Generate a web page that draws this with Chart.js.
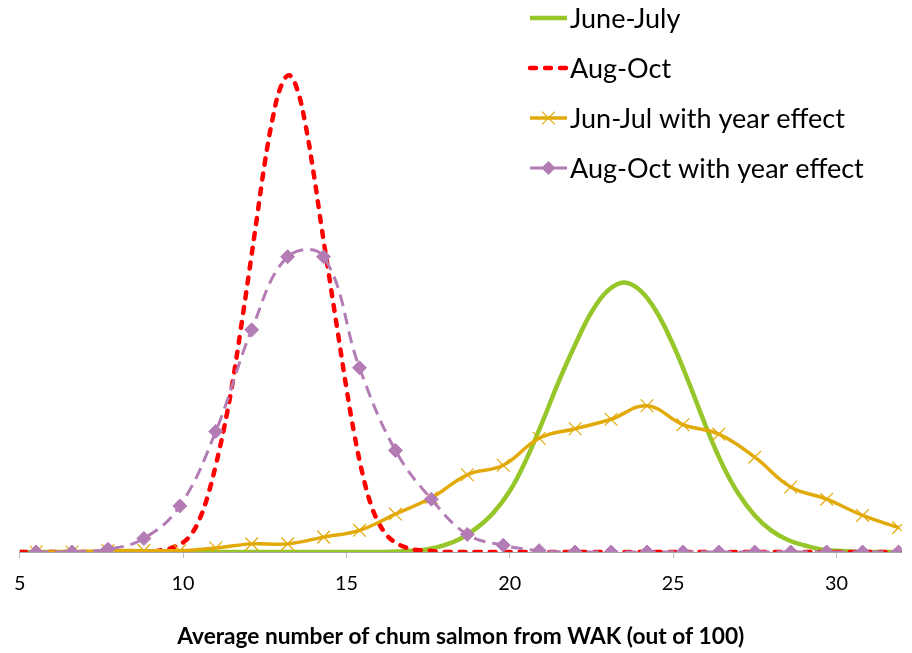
<!DOCTYPE html>
<html>
<head>
<meta charset="utf-8">
<script src="https://cdn.jsdelivr.net/npm/chart.js@4.4.1/dist/chart.umd.min.js"></script>
<style>
html,body{margin:0;padding:0;background:#ffffff;}
#wrap{width:912px;height:653px;}
</style>
</head>
<body>
<div id="wrap"><canvas id="c" width="912" height="653"></canvas></div>
<script>
// ---------------- data ----------------
const seriesNames = ['June-July', 'Aug-Oct', 'Jun-Jul with year effect', 'Aug-Oct with year effect'];
const axisTitle = 'Average number of chum salmon from WAK (out of 100)';
const xTickValues = [5, 10, 15, 20, 25, 30];

// June-July (smooth curve, no markers)
const junJulX = [5, 8, 11, 14, 16, 17, 17.5, 18, 18.5, 19, 19.5, 20, 20.5, 21, 21.5, 22, 22.5, 23, 23.5, 24, 24.5, 25, 25.5, 26, 26.5, 27, 27.5, 28, 28.5, 29, 29.5, 30, 31, 32];
const junJulY = [0, 0, 0, 0, 0, 0.001, 0.002, 0.005, 0.010, 0.018, 0.029, 0.045, 0.068, 0.096, 0.126, 0.153, 0.177, 0.193, 0.199, 0.193, 0.177, 0.153, 0.124, 0.093, 0.065, 0.043, 0.027, 0.016, 0.009, 0.005, 0.002, 0.001, 0, 0];

// Aug-Oct (smooth curve, no markers)
const augOctX = [5, 6, 7, 8, 8.5, 9, 9.25, 9.5, 9.75, 10, 10.25, 10.5, 10.75, 11, 11.25, 11.5, 11.75, 12, 12.25, 12.5, 12.75, 13, 13.25, 13.5, 13.75, 14, 14.25, 14.5, 14.75, 15, 15.25, 15.5, 15.75, 16, 16.25, 16.5, 16.75, 17, 17.5, 18, 19, 20, 22, 24, 26, 28, 30, 32];
const augOctY = [0, 0, 0, 0, 0, 0.000, 0.001, 0.002, 0.004, 0.007, 0.013, 0.024, 0.041, 0.064, 0.091, 0.123, 0.162, 0.203, 0.245, 0.287, 0.321, 0.344, 0.352, 0.341, 0.315, 0.279, 0.238, 0.199, 0.160, 0.121, 0.086, 0.057, 0.035, 0.021, 0.012, 0.007, 0.004, 0.002, 0.001, 0, 0, 0, 0, 0, 0, 0, 0, 0];

// year-effect series (markers)
const yearEffectX = [5.5, 6.6, 7.7, 8.8, 9.9, 11.0, 12.1, 13.2, 14.3, 15.4, 16.5, 17.6, 18.7, 19.8, 20.9, 22.0, 23.1, 24.2, 25.3, 26.4, 27.5, 28.6, 29.7, 30.8, 31.9];
const junJulYearY = [0, 0, 0.001, 0.001, 0.001, 0.003, 0.006, 0.006, 0.011, 0.016, 0.028, 0.040, 0.057, 0.064, 0.084, 0.091, 0.098, 0.108, 0.094, 0.087, 0.070, 0.048, 0.039, 0.027, 0.018];
const augOctYearY = [0, 0, 0.002, 0.010, 0.034, 0.089, 0.164, 0.218, 0.218, 0.136, 0.075, 0.039, 0.013, 0.005, 0.001, 0, 0, 0, 0, 0, 0, 0, 0, 0, 0];

// ---------------- styling helpers ----------------
const FAMILY = 'Lato, "Open Sans", sans-serif';
function fitSize(text, weight, target) {
  const c = document.createElement('canvas').getContext('2d');
  c.font = weight + ' 100px ' + FAMILY;
  return Math.round(1000 * target / c.measureText(text).width) / 10;
}
const tickSize = fitSize('25', 'normal', 23);
const legendSize = fitSize('Aug-Oct with year effect', 'normal', 294);
const titleSize = fitSize(axisTitle, 'bold', 567);

const GREEN = '#97C62A', RED = '#FF0000', GOLD = '#E2AA08', PURPLE = '#B37CB5';

function pts(xs, ys) { return xs.map((x, i) => ({x: x, y: ys[i]})); }

const legendPlugin = {
  id: 'sideLegend',
  afterDraw(chart) {
    const ctx = chart.ctx;
    const rowY = [18, 68, 118, 168];
    const x0 = 530, x1 = 567, tx = 570;
    chart.data.datasets.forEach((ds, i) => {
      const y = rowY[i];
      ctx.save();
      ctx.strokeStyle = ds.borderColor;
      ctx.lineWidth = ds.borderWidth;
      ctx.lineCap = ds.borderCapStyle || 'butt';
      ctx.setLineDash(i === 3 ? [] : (ds.borderDash || []));
      ctx.beginPath(); ctx.moveTo(x0, y); ctx.lineTo(x1, y); ctx.stroke();
      ctx.setLineDash([]);
      const cx = (x0 + x1) / 2;
      if (ds.pointStyle === 'crossRot') {
        const r = ds.pointRadius * Math.SQRT1_2;
        ctx.lineWidth = ds.pointBorderWidth; ctx.strokeStyle = ds.pointBorderColor; ctx.lineCap = 'butt';
        ctx.beginPath();
        ctx.moveTo(cx - r, y - r); ctx.lineTo(cx + r, y + r);
        ctx.moveTo(cx - r, y + r); ctx.lineTo(cx + r, y - r);
        ctx.stroke();
      } else if (ds.pointStyle === 'rectRot') {
        const r = ds.pointRadius;
        ctx.fillStyle = ds.pointBackgroundColor;
        ctx.beginPath();
        ctx.moveTo(cx - r, y); ctx.lineTo(cx, y - r); ctx.lineTo(cx + r, y); ctx.lineTo(cx, y + r);
        ctx.closePath(); ctx.fill();
      }
      ctx.fillStyle = '#000000';
      ctx.font = 'normal ' + legendSize + 'px ' + FAMILY;
      ctx.textBaseline = 'middle';
      ctx.textAlign = 'left';
      ctx.fillText(ds.label, tx, y + 1);
      ctx.restore();
    });
  }
};

new Chart(document.getElementById('c'), {
  type: 'line',
  data: {
    datasets: [
      {
        label: seriesNames[0], data: pts(junJulX, junJulY), order: 4,
        borderColor: GREEN, borderWidth: 4.5, pointRadius: 0,
        tension: 0.4, fill: false
      },
      {
        label: seriesNames[1], data: pts(augOctX, augOctY), order: 3,
        borderColor: RED, borderWidth: 4.5, borderDash: [6, 9], borderCapStyle: 'round',
        pointRadius: 0, tension: 0.4, fill: false
      },
      {
        label: seriesNames[2], data: pts(yearEffectX, junJulYearY), order: 2,
        borderColor: GOLD, borderWidth: 3.5, tension: 0.4,
        pointStyle: 'crossRot', pointRadius: 9, pointBorderWidth: 1.2,
        pointBorderColor: GOLD, pointBackgroundColor: GOLD, fill: false
      },
      {
        label: seriesNames[3], data: pts(yearEffectX, augOctYearY), order: 1,
        borderColor: PURPLE, borderWidth: 3, borderDash: [12, 7], tension: 0.4,
        pointStyle: 'rectRot', pointRadius: 7, pointBorderWidth: 1,
        pointBorderColor: PURPLE, pointBackgroundColor: PURPLE, fill: false
      }
    ]
  },
  options: {
    responsive: false,
    animation: false,
    devicePixelRatio: 1,
    layout: { padding: { left: 17, right: 4, top: 5, bottom: 0 } },
    plugins: { legend: { display: false }, tooltip: { enabled: false } },
    scales: {
      x: {
        type: 'linear', position: 'bottom', min: 5, max: 32,
        afterBuildTicks: (scale) => { scale.ticks = xTickValues.map(v => ({value: v})); },
        ticks: {
          color: '#000000', padding: 14, maxRotation: 0, autoSkip: false,
          font: { family: FAMILY, size: tickSize }
        },
        grid: { drawOnChartArea: false, drawTicks: true, tickLength: 6, color: '#BFBFBF' },
        border: { color: '#A6A6A6', width: 1 },
        title: {
          display: true, text: axisTitle, color: '#000000',
          font: { family: FAMILY, size: titleSize, weight: 'bold' },
          padding: { top: 13, bottom: 3 }
        }
      },
      y: { display: false, min: 0, max: 0.4 }
    }
  },
  plugins: [legendPlugin]
});
</script>
</body>
</html>
